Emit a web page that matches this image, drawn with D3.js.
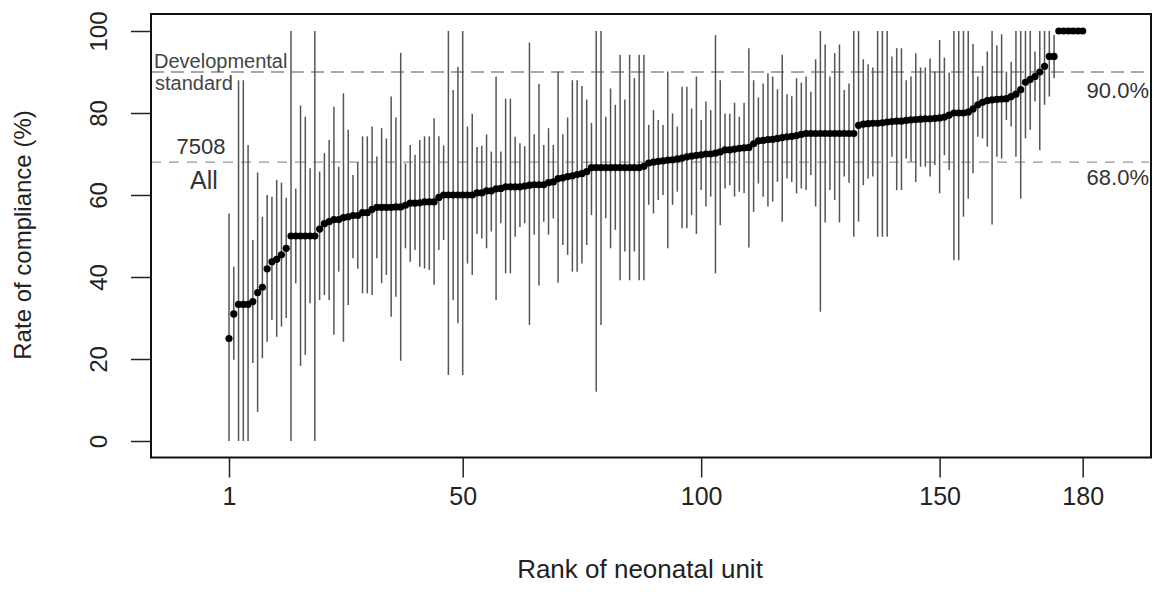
<!DOCTYPE html>
<html>
<head>
<meta charset="utf-8">
<script src="https://cdn.jsdelivr.net/npm/d3@7"></script>
<style>
  body { margin: 0; background: #fff; }
  text { font-family: "Liberation Sans", Arial, sans-serif; fill: #222; }
</style>
</head>
<body>
<svg id="chart" width="1155" height="605"></svg>
<script>
// compliance rate per unit, ordered by rank (1..180)
const rate = [
  25, 31, 33.3, 33.3, 33.3, 34, 36.2, 37.5, 42, 43.7,
  44.3, 45.4, 47, 50, 50, 50, 50, 50, 50, 51.7,
  53, 53.5, 54, 54, 54.5, 54.7, 55, 55, 55.7, 55.7,
  56.5, 57, 57, 57, 57, 57.1, 57.1, 57.5, 58, 58,
  58.1, 58.3, 58.3, 58.3, 59.4, 60, 60, 60, 60, 60,
  60, 60, 60.5, 60.5, 61, 61, 61.5, 61.6, 62, 62,
  62, 62, 62.2, 62.4, 62.5, 62.5, 62.5, 63, 63.2, 64,
  64.2, 64.5, 64.7, 65, 65.2, 65.7, 66.7, 66.7, 66.7, 66.7,
  66.7, 66.7, 66.7, 66.7, 66.7, 66.7, 66.7, 67, 67.8, 68,
  68.2, 68.3, 68.5, 68.6, 68.8, 69, 69.3, 69.5, 69.7, 69.8,
  70, 70, 70.2, 70.5, 71, 71, 71.2, 71.4, 71.5, 71.6,
  72.5, 73.2, 73.3, 73.5, 73.6, 73.8, 74, 74.2, 74.3, 74.5,
  74.8, 75, 75, 75, 75, 75, 75, 75, 75, 75,
  75, 75, 77, 77.3, 77.4, 77.5, 77.5, 77.6, 77.8, 77.9,
  78, 78, 78.2, 78.3, 78.4, 78.5, 78.6, 78.6, 78.7, 78.8,
  79, 79.5, 80, 80, 80, 80.2, 81, 82, 82.6, 83,
  83.2, 83.3, 83.4, 83.5, 84, 84.6, 85.7, 87.5, 88.2, 88.9,
  90, 91.4, 93.8, 93.8, 100, 100, 100, 100, 100, 100
];
const lower = [
  0, 19.8, 0, 0, 0, 19, 7.1, 20.2, 24.2, 29.5,
  25.4, 27.9, 30, 0, 38.5, 18.3, 21, 33.6, 0, 34.4,
  35.6, 34.4, 25.9, 41.3, 24.2, 33.2, 44.6, 42, 36, 36,
  35.6, 44.6, 38.5, 40.5, 30.3, 35.2, 19.6, 47, 43.7, 46.6,
  42.5, 42.1, 41.7, 38.1, 46.6, 49, 16.1, 34.4, 28.7, 16.1,
  43.3, 40.5, 50.5, 49.4, 47, 51.1, 34.4, 53.1, 40.9, 40.9,
  49.8, 52.2, 53.1, 28.3, 50.3, 37.9, 53.5, 50.3, 54.3, 38.6,
  47.8, 45.4, 41.3, 41.3, 43.3, 47.8, 55.1, 12, 28.3, 54.3,
  47, 51.5, 39.2, 46.2, 39.2, 46.2, 39.2, 39.2, 57.6, 55.5,
  58.8, 60, 47, 57.6, 60.8, 51.9, 51.9, 55.1, 50.5, 61.2,
  57.2, 59.6, 40.9, 52.6, 61.6, 62.4, 59.6, 60.8, 60.5, 47.2,
  55.9, 62.8, 59.6, 57.2, 58.4, 63.2, 53.5, 64, 63.2, 60.4,
  61.6, 61.2, 64.9, 57.2, 31.5, 53.3, 61.2, 58.8, 53.3, 64.5,
  63, 49.8, 53.5, 62.4, 64, 64.5, 49.8, 49.8, 49.8, 69.3,
  61.2, 61.2, 68.9, 68.1, 63.2, 66.9, 66.9, 64.5, 67.3, 60.4,
  69.7, 66.1, 44.1, 44.1, 54.7, 59.1, 65.3, 74.2, 73.8, 71.8,
  52.8, 69.3, 68.9, 78.3, 76.7, 69.3, 59.1, 73.8, 75.9, 82.8,
  70.9, 82, 84, 88.5, 100, 100, 100, 100, 100, 100
];
const upper = [
  55.5, 42.5, 88, 88, 72.2, 49, 65.5, 54.7, 60, 59.6,
  63.7, 63, 59.3, 100, 61.5, 81.8, 79.1, 66.5, 100, 65.7,
  70.2, 73.4, 81.5, 66.9, 84.8, 75.9, 64.9, 68, 74.3, 74.3,
  76.7, 69.4, 76.3, 73.8, 84, 78.9, 94.7, 67.7, 72.2, 69.8,
  73.4, 74.3, 74.3, 78.7, 74.3, 72.1, 100, 85.6, 91.3, 100,
  76.7, 79.8, 71.7, 72, 74.8, 70.6, 88.9, 70.6, 83.5, 83.5,
  74.2, 72.6, 71.9, 97.2, 74.8, 87.1, 72.2, 76.3, 72.2, 90.1,
  74.8, 78.9, 88, 88, 86.6, 83.3, 77.6, 100, 100, 79.1,
  86, 82, 94.2, 83.3, 94.2, 88.5, 94.2, 94.2, 77.1, 80.7,
  78.3, 77.1, 90.1, 79.9, 76.7, 86.4, 86.4, 81.1, 88.9, 78.3,
  82.8, 80.7, 99, 88, 79.9, 79.8, 82.5, 79.1, 82.5, 95.8,
  88, 83.8, 87.2, 89.7, 88.9, 85.8, 94.2, 84.6, 84.1, 88.5,
  87.4, 88.9, 85.2, 93.1, 100, 96.7, 88.9, 94.6, 96.7, 85.6,
  87.2, 100, 100, 93.1, 91.9, 91.1, 100, 100, 100, 93.8,
  95.8, 95.8, 88, 88.9, 94.6, 91.1, 91.1, 93.3, 90.1, 97.8,
  93.5, 89.9, 100, 100, 100, 100, 96.8, 88.9, 91.5, 95,
  100, 96.5, 99.2, 90.1, 92.5, 100, 100, 100, 100, 95,
  100, 100, 100, 99, 100, 100, 100, 100, 100, 100
];
const xTicks = [1, 50, 100, 150, 180];
const yTicks = [0, 20, 40, 60, 80, 100];
const standard = 90;   // developmental standard
const overall = 68;    // all units
const overallN = "7508";

const svg = d3.select("#chart");
const box = { left: 151, right: 1151, top: 14, bottom: 457.5 };

const x = d3.scaleLinear().domain([1, 180]).range([229, 1082.7]);
const y = d3.scaleLinear().domain([0, 100]).range([441, 31]);

const units = rate.map((r, i) => ({ rank: i + 1, rate: r, lo: lower[i], hi: upper[i] }));

// reference lines
svg.append("line")
  .attr("x1", box.left).attr("x2", box.right - 2)
  .attr("y1", y(standard)).attr("y2", y(standard))
  .attr("stroke", "#8a8a8a").attr("stroke-width", 1.6)
  .attr("stroke-dasharray", "13,7");
svg.append("line")
  .attr("x1", box.left).attr("x2", box.right - 2)
  .attr("y1", y(overall)).attr("y2", y(overall))
  .attr("stroke", "#9a9a9a").attr("stroke-width", 1.3)
  .attr("stroke-dasharray", "10,8");

// labels on the reference lines
svg.append("text").attr("x", 154).attr("y", y(standard) - 4)
  .style("font-size", "20px").style("fill", "#444").text("Developmental");
svg.append("text").attr("x", 155).attr("y", y(standard) + 18)
  .style("font-size", "20px").style("fill", "#444").text("standard");
svg.append("text").attr("x", 201).attr("y", y(overall) - 8)
  .attr("text-anchor", "middle").style("font-size", "22px").style("fill", "#333").text(overallN);
svg.append("text").attr("x", 204).attr("y", y(overall) + 27)
  .attr("text-anchor", "middle").style("font-size", "25px").style("fill", "#333").text("All");
svg.append("text").attr("x", 1149).attr("y", y(standard) + 26)
  .attr("text-anchor", "end").style("font-size", "22px").style("fill", "#333").text(standard.toFixed(1) + "%");
svg.append("text").attr("x", 1149).attr("y", y(overall) + 23)
  .attr("text-anchor", "end").style("font-size", "22px").style("fill", "#333").text(overall.toFixed(1) + "%");

// interval bars
svg.append("g").selectAll("line")
  .data(units.filter(d => d.hi > d.lo))
  .join("line")
  .attr("x1", d => x(d.rank)).attr("x2", d => x(d.rank))
  .attr("y1", d => y(d.hi)).attr("y2", d => y(d.lo))
  .attr("stroke", "#555").attr("stroke-width", 1.5);

// points
svg.append("g").selectAll("circle")
  .data(units)
  .join("circle")
  .attr("cx", d => x(d.rank)).attr("cy", d => y(d.rate))
  .attr("r", 3.6).attr("fill", "#000");

// frame
svg.append("rect")
  .attr("x", box.left).attr("y", box.top)
  .attr("width", box.right - box.left).attr("height", box.bottom - box.top)
  .attr("fill", "none").attr("stroke", "#111").attr("stroke-width", 2);

// x axis
const xAxis = d3.axisBottom(x).tickValues(xTicks).tickSize(20).tickPadding(10).tickSizeOuter(0);
const gx = svg.append("g").attr("transform", `translate(0,${box.bottom})`).call(xAxis);
gx.select(".domain").remove();
gx.selectAll(".tick line").attr("stroke", "#222").attr("stroke-width", 1.5);
gx.selectAll(".tick text").style("font-size", "25px").style("fill", "#222")
  .style("font-family", "'Liberation Sans', Arial, sans-serif");

// y axis
const yAxis = d3.axisLeft(y).tickValues(yTicks).tickSize(20).tickPadding(0).tickSizeOuter(0);
const gy = svg.append("g").attr("transform", `translate(${box.left},0)`).call(yAxis);
gy.select(".domain").remove();
gy.selectAll(".tick line").attr("stroke", "#222").attr("stroke-width", 1.5);
gy.selectAll(".tick text")
  .attr("x", 0).attr("dy", null)
  .attr("transform", "translate(-53,0) rotate(-90)")
  .attr("text-anchor", "middle").attr("dominant-baseline", "central")
  .style("font-size", "24px").style("fill", "#222")
  .style("font-family", "'Liberation Sans', Arial, sans-serif");

// axis titles
svg.append("text").attr("x", 640).attr("y", 578).attr("text-anchor", "middle")
  .style("font-size", "26px").text("Rank of neonatal unit");
svg.append("text").attr("transform", "translate(31,235) rotate(-90)").attr("text-anchor", "middle")
  .style("font-size", "24px").text("Rate of compliance (%)");
</script>
</body>
</html>
